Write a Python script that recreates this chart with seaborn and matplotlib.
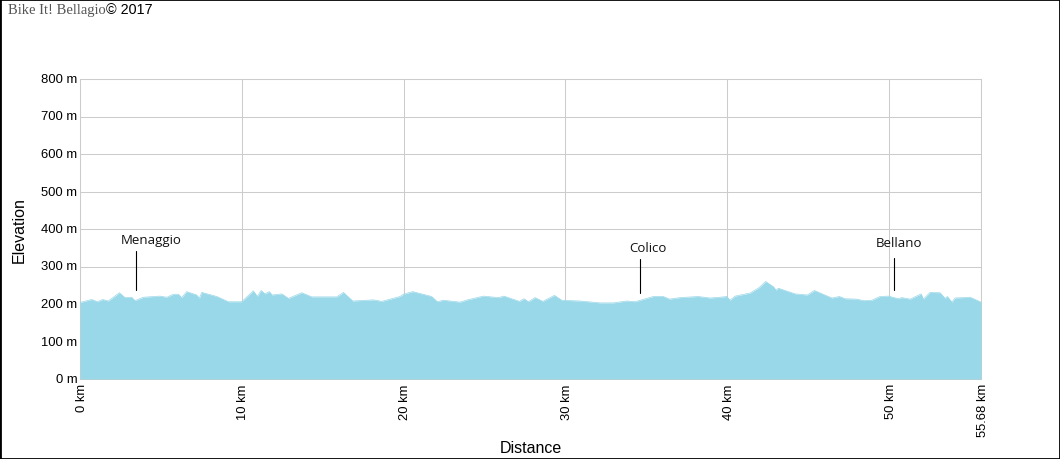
import matplotlib
matplotlib.use("Agg")
import matplotlib.pyplot as plt
from matplotlib.patches import Rectangle
from matplotlib.transforms import ScaledTranslation
import pandas as pd
import seaborn as sns

distance_km = [0, 0.72, 1.07, 1.40, 1.75, 2.43, 2.78, 3.19, 3.40, 3.91, 4.94, 5.36, 5.77, 6.08, 6.28, 6.59,
               7.21, 7.37, 7.52, 8.45, 9.17, 9.99, 10.71, 10.96, 11.19, 11.43, 11.7, 11.87, 12.47, 12.88,
               13.7, 14.32, 15.87, 16.28, 16.85, 18.13, 18.65, 19.78, 19.98, 20.56, 21.73, 22.08, 22.45,
               23.49, 23.94, 24.93, 25.86, 26.2, 27.15, 27.44, 27.71, 28.12, 28.6, 29.32, 29.77, 30.9,
               32.14, 32.96, 33.79, 34.3, 35.43, 36.05, 36.42, 37.08, 38.2, 38.94, 39.55, 39.97, 40.17,
               40.48, 41.4, 41.98, 42.37, 42.85, 43.01, 43.16, 44.19, 44.95, 45.38, 46.46, 46.93, 47.28,
               48.0, 48.41, 48.93, 49.44, 49.96, 50.57, 50.78, 51.3, 51.98, 52.12, 52.53, 53.15, 53.46,
               53.6, 53.88, 54.08, 55.01, 55.68]
elevation_m = [204, 212, 206, 212, 208, 230, 217, 218, 209, 218, 221, 218, 226, 226, 217, 233,
               224, 215, 231, 220, 206, 206, 235, 220, 236, 227, 233, 224, 227, 215,
               230, 219, 219, 231, 208, 211, 207, 220, 226, 233, 220, 206, 210,
               205, 211, 221, 217, 221, 207, 214, 206, 217, 207, 223, 210, 208,
               203, 203, 208, 206, 220, 220, 213, 217, 220, 216, 218, 220, 210,
               221, 229, 244, 260, 246, 237, 242, 227, 224, 236, 216, 220, 214,
               213, 209, 210, 220, 221, 214, 217, 213, 227, 213, 231, 230, 215,
               220, 205, 216, 218, 205]

y_ticks = [0, 100, 200, 300, 400, 500, 600, 700, 800]
y_tick_labels = ["0 m", "100 m", "200 m", "300 m", "400 m", "500 m", "600 m", "700 m", "800 m"]
x_ticks = [0, 10, 20, 30, 40, 50, 55.68]
x_tick_labels = ["0 km", "10 km", "20 km", "30 km", "40 km", "50 km", "55.68 km"]

place_names = ["Menaggio", "Colico", "Bellano"]
place_km = [3.49, 34.6, 50.3]
place_line_low = [237, 229, 237]
place_line_high = [341, 320, 323]
place_label_km = [4.38, 35.1, 50.62]
place_label_m = [373, 352, 365]

sns.set_theme(style="white")
plt.rcParams["font.family"] = ["Liberation Sans", "DejaVu Sans"]

profile = pd.DataFrame({"km": distance_km, "m": elevation_m})

fig = plt.figure(figsize=(10.6, 4.6), dpi=100, facecolor="white")
ax = fig.add_axes([80 / 1060, 80 / 460, 901 / 1060, 300 / 460])

fill_colour = "#99D8E9"
ax.fill_between(profile["km"], profile["m"], 0, color=fill_colour, lw=0, zorder=3)
sns.lineplot(data=profile, x="km", y="m", ax=ax, color=fill_colour, lw=0.5, zorder=3, errorbar=None)

ax.set_xlim(0, 55.68)
ax.set_ylim(0, 800)
ax.set_yticks(y_ticks, y_tick_labels)
ax.set_xticks(x_ticks, x_tick_labels, rotation=90)
ax.grid(True, color="#CCCCCC", lw=0.75, zorder=1)
ax.set_axisbelow(True)
ax.tick_params(axis="both", length=0, labelsize=9.4, labelcolor="black")
ax.tick_params(axis="x", pad=3)
ax.tick_params(axis="y", pad=2)
nudge_x = ScaledTranslation(1.6 / 100, 0, fig.dpi_scale_trans)
for lab in ax.get_xticklabels():
    lab.set_transform(lab.get_transform() + nudge_x)
nudge_y = ScaledTranslation(0, 1.5 / 100, fig.dpi_scale_trans)
for lab in ax.get_yticklabels():
    lab.set_transform(lab.get_transform() + nudge_y)
for side in ax.spines.values():
    side.set_color("#CCCCCC")
    side.set_linewidth(0.75)
    side.set_zorder(2)

ax.set_xlabel("Distance", fontsize=11.5, color="black")
ax.set_ylabel("Elevation", fontsize=11.5, color="black")
ax.xaxis.set_label_coords(0.5, -0.205)
ax.yaxis.set_label_coords(-0.059, 0.5)

for name, km, low, high, lx, ly in zip(place_names, place_km, place_line_low, place_line_high,
                                       place_label_km, place_label_m):
    ax.plot([km, km], [low, high], color="black", lw=0.8, zorder=4)
    ax.text(lx, ly, name, ha="center", va="center", fontsize=9.5, color="#111111",
            family=["Open Sans", "DejaVu Sans"], zorder=5)

fig.text(8 / 1060, 1 - 14 / 460, "Bike It! Bellagio", family=["Liberation Serif"], fontsize=10.5,
         color="#555555", ha="left", va="baseline")
fig.text(106 / 1060, 1 - 14 / 460, "\u00a9 2017", fontsize=10.4, color="black", ha="left", va="baseline")

fig.add_artist(Rectangle((0, 0), 1, 1, transform=fig.transFigure, fill=False,
                         edgecolor="black", lw=2, clip_on=True))

fig.savefig("out.png", dpi=100, facecolor="white")
